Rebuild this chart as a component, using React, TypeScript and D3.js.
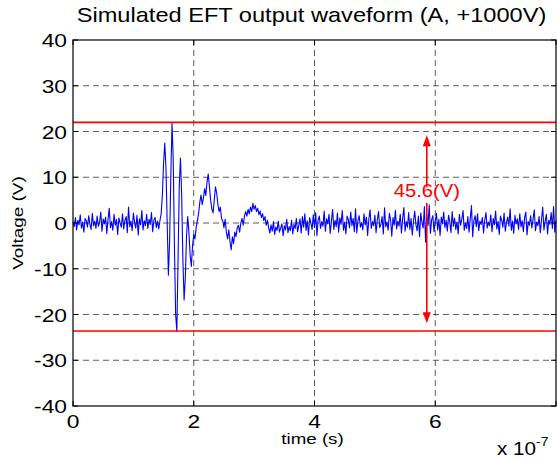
import React, { useEffect, useRef } from "react";
import * as d3 from "d3";

const sampleStep = 0.02e-7;
const voltage = [
  0.3, -0.8, 1.2, -1.5, 0.6, -0.4, 1.8, -1.1, 0.2, -2.0,
  1.0, 0.5, -0.9, 1.6, -0.3, -1.4, 2.1, -0.6, 0.4, -1.2,
  1.5, -0.7, 0.1, 2.4, -1.8, 0.9, -0.2, 1.3, -2.3, 0.7,
  3.2, -1.0, 0.3, -1.6, 1.9, -0.5, 0.8, -2.5, 1.1, 0.0,
  -0.9, 2.0, -1.3, 0.6, 1.4, -2.1, 3.5, -0.8, 0.4, -1.7,
  2.2, 0.1, -1.1, 1.7, -2.6, 0.9, -0.4, 2.7, -1.5, 0.5,
  -0.6, 1.9, -1.2, 0.8, -0.3, 2.3, -1.9, 0.7, 1.2, -1.0,
  0.4, -1.3, 0.5, 2.0, 6.0, 13.0, 17.5, 12.0, 0.0, -11.4,
  -4.0, 10.0, 21.8, 14.0, -5.0, -20.0, -23.7, -8.0, 8.0, 14.2,
  6.0, -8.0, -16.8, -12.0, -3.0, 1.4, -2.0, -7.0, -9.5, -5.0,
  -2.5, -3.5, -1.0, 0.5, 2.0, 4.5, 6.1, 4.0, 5.5, 7.5,
  6.0, 9.0, 10.7, 8.0, 5.0, 3.0, 2.2, 5.0, 7.9, 6.5,
  4.0, 2.5, 3.5, 1.0, 0.5, -1.0, 0.8, -2.0, -3.5, -1.5,
  -4.0, -5.9, -3.0, -4.5, -2.0, -3.0, -1.0, -0.5, -2.0, 0.0,
  1.0, -0.5, 1.5, 2.5, 1.5, 3.0, 2.0, 3.5, 2.5, 4.3,
  3.0, 3.8, 2.5, 3.2, 1.8, 2.6, 1.2, 2.0, 0.5, 1.4,
  -0.5, 0.6, -1.0, -2.2, -0.4, -1.8, 0.3, -2.5, -0.9, -1.6,
  0.4, -2.0, -1.1, -0.2, -2.8, -0.6, -1.5, 0.8, -2.1, -0.8,
  -1.7, 0.6, -2.4, -0.3, -1.2, 1.0, -1.9, -0.5, 0.9, -2.2,
  1.4, -0.9, 2.0, -1.6, 0.5, -2.6, 1.2, 0.0, -1.4, 1.8,
  -1.0, 2.3, -2.8, 0.7, 1.5, -1.2, 0.3, -0.7, 2.6, -1.8,
  0.9, -0.2, 1.9, -2.3, 0.4, 3.0, -1.4, 0.6, -0.8, 2.2,
  -2.0, 1.1, -0.3, 2.7, -1.6, 0.2, -2.4, 1.5, 0.8, -1.1,
  2.4, -0.6, 1.0, -1.9, 3.1, -2.2, 0.5, 1.6, -0.9, 0.1,
  -1.5, 2.0, -0.4, 1.3, -2.7, 0.8, 2.9, -1.2, 0.3, -0.6,
  1.7, -2.1, 0.6, 2.5, -1.0, -0.3, 1.4, -2.4, 3.3, -0.8,
  0.2, -1.6, 2.1, 0.7, -2.9, 1.2, -0.5, 2.8, -1.3, 0.4,
  -0.7, 1.9, -2.2, 0.9, 3.4, -1.8, 0.3, -0.9, 2.3, -1.4,
  1.0, -2.6, 0.5, 2.6, -0.4, -1.7, 1.5, -3.0, 2.2, 0.1,
  -1.1, 3.6, -4.2, 1.8, -0.6, 4.0, -2.3, 0.7, 1.6, -1.9,
  0.4, 2.1, -1.5, 0.8, -2.7, 1.3, -0.2, 2.4, -1.0, 0.6,
  -1.8, 1.7, 0.3, -2.1, 2.5, -0.7, 1.1, -1.4, 0.2, -2.4,
  1.9, -0.5, 0.8, 2.7, -1.6, 0.0, -1.2, 1.4, -2.0, 0.9,
  3.8, -3.0, 0.5, 1.6, -0.8, 2.0, -1.7, 0.4, -0.3, 1.2,
  -2.2, 0.7, 2.3, -1.1, 0.2, -0.6, 1.8, -1.9, 1.0, -0.4,
  2.6, -1.3, 0.3, -2.5, 1.5, 0.6, -0.9, 2.2, -1.8, 0.1,
  1.3, -0.7, 3.1, -1.6, 0.4, -2.3, 1.7, -0.2, 0.9, -1.4,
  2.0, -0.8, 0.5, -1.9, 1.2, 2.4, -2.6, 0.3, -0.5, 1.6,
  -1.1, 0.8, 2.9, -1.7, 0.2, -0.6, 1.4, -2.1, 0.7, 3.5,
  -1.5, 0.4, 1.9, -2.4, 0.6, -0.3, 2.3, -1.2, 3.6, -2.0,
  0.5,
];

// peak levels and the annotation
const peakLevels = [22.0, -23.6];
const arrowTime = 5.86e-7;
const arrowEnds = [19.2, -21.9];
const arrowGap = [7.8, 4.4]; // where the arrow breaks around the label
const labelText = "45.6(V)";
const labelValue = 5.6;

const xTicks = [0, 2e-7, 4e-7, 6e-7, 8e-7];
const xTickLabels = ["0", "2", "4", "6", "8"];
const yTicks = [-40, -30, -20, -10, 0, 10, 20, 30, 40];

const App = () => {
  const svgRef = useRef<SVGSVGElement>(null);

  useEffect(() => {
    const svg = d3.select(svgRef.current);
    svg.selectAll("*").remove();

    const width = 557;
    const height = 460;
    const margin = { top: 40, right: 1, bottom: 54, left: 73 };
    const font = "'Liberation Sans', Arial, Helvetica, sans-serif";

    //the reference text is a bit wider than Arial, so stretch it along the baseline
    const label = (
      parent: any,
      px: number,
      py: number,
      txt: string,
      size: number,
      anchor: string,
      sx = 1.18,
      rotate = 0,
      fill = "#000"
    ) =>
      parent
        .append("text")
        .attr("transform", `translate(${px},${py}) rotate(${rotate}) scale(${sx},1)`)
        .attr("text-anchor", anchor)
        .attr("fill", fill)
        .style("font-family", font)
        .style("font-size", `${size}px`)
        .text(txt);

    const x = d3.scaleLinear().domain([0, 8e-7]).range([margin.left, width - margin.right]);
    const y = d3.scaleLinear().domain([-40, 40]).range([height - margin.bottom, margin.top]);
    const [x0, x1] = x.range();
    const [y0, y1] = y.range();

    // white plot area
    svg.append("rect").attr("x", x0).attr("y", y1).attr("width", x1 - x0).attr("height", y0 - y1).attr("fill", "#fff");

    // dashed grid
    const grid = svg.append("g").attr("stroke", "#333").attr("stroke-width", 0.8).attr("stroke-dasharray", "6,4");
    grid.selectAll("line.gy")
      .data(yTicks.slice(1, -1))
      .enter()
      .append("line")
      .attr("x1", x0)
      .attr("x2", x1)
      .attr("y1", (d) => y(d))
      .attr("y2", (d) => y(d));
    grid.selectAll("line.gx")
      .data(xTicks.slice(1, -1))
      .enter()
      .append("line")
      .attr("x1", (d) => x(d))
      .attr("x2", (d) => x(d))
      .attr("y1", y1)
      .attr("y2", y0);

    // waveform
    const line = d3
      .line<number>()
      .x((d, i) => x(i * sampleStep))
      .y((d) => y(d));
    svg.append("path")
      .datum(voltage)
      .attr("fill", "none")
      .attr("stroke", "#0000ff")
      .attr("stroke-width", 1.1)
      .attr("stroke-linejoin", "round")
      .attr("d", line);

    // peak lines
    svg.selectAll("line.peak")
      .data(peakLevels)
      .enter()
      .append("line")
      .attr("x1", x0)
      .attr("x2", x1)
      .attr("y1", (d) => y(d))
      .attr("y2", (d) => y(d))
      .attr("stroke", "#ff0000")
      .attr("stroke-width", 1.6);

    // double arrow, broken around the label
    const ax = x(arrowTime);
    const headLen = 11;
    const headHalf = 4;
    svg.append("line")
      .attr("x1", ax).attr("x2", ax)
      .attr("y1", y(arrowEnds[0]) + headLen - 1).attr("y2", y(arrowGap[0]))
      .attr("stroke", "#ff0000").attr("stroke-width", 1.6);
    svg.append("line")
      .attr("x1", ax).attr("x2", ax)
      .attr("y1", y(arrowGap[1])).attr("y2", y(arrowEnds[1]) - headLen + 1)
      .attr("stroke", "#ff0000").attr("stroke-width", 1.6);
    const top = y(arrowEnds[0]);
    const bot = y(arrowEnds[1]);
    svg.append("path")
      .attr("d", `M${ax},${top} L${ax - headHalf},${top + headLen} L${ax + headHalf},${top + headLen} Z`)
      .attr("fill", "#ff0000");
    svg.append("path")
      .attr("d", `M${ax},${bot} L${ax - headHalf},${bot - headLen} L${ax + headHalf},${bot - headLen} Z`)
      .attr("fill", "#ff0000");
    label(svg, ax, y(labelValue), labelText, 18, "middle", 1.12, 0, "#ff0000");

    // box and inward ticks
    svg.append("rect")
      .attr("x", x0).attr("y", y1).attr("width", x1 - x0).attr("height", y0 - y1)
      .attr("fill", "none").attr("stroke", "#000").attr("stroke-width", 1.2);
    const tickLen = 5;
    const ticks = svg.append("g").attr("stroke", "#000").attr("stroke-width", 1);
    yTicks.forEach((t) => {
      ticks.append("line").attr("x1", x0).attr("x2", x0 + tickLen).attr("y1", y(t)).attr("y2", y(t));
      ticks.append("line").attr("x1", x1).attr("x2", x1 - tickLen).attr("y1", y(t)).attr("y2", y(t));
    });
    xTicks.forEach((t) => {
      ticks.append("line").attr("x1", x(t)).attr("x2", x(t)).attr("y1", y0).attr("y2", y0 - tickLen);
      ticks.append("line").attr("x1", x(t)).attr("x2", x(t)).attr("y1", y1).attr("y2", y1 + tickLen);
    });

    // tick labels
    yTicks.forEach((t) => label(svg, x0 - 6, y(t) + 7, String(t), 19, "end", 1.2));
    xTicks.slice(0, -1).forEach((t, i) => label(svg, x(t), y0 + 22, xTickLabels[i], 19, "middle", 1.2));

    // exponent
    const expo = label(svg, 497, 455, "", 18, "start", 1.15);
    expo.append("tspan").text("x 10");
    expo.append("tspan").attr("dy", -9).style("font-size", "12px").text("-7");

    // axis labels
    label(svg, (x0 + x1) / 2 - 2, 444, "time (s)", 15, "middle", 1.25);
    label(svg, 23, y(0), "Voltage (V)", 14, "middle", 1.35, -90);

    // title
    label(svg, (x0 + x1) / 2 - 3, 22, "Simulated EFT output waveform (A, +1000V)", 20, "middle", 1.18);
  }, []);

  return (
    <svg
      ref={svgRef}
      width={557}
      height={460}
      style={{ position: "absolute", left: 0, top: 0, background: "#fff" }}
    />
  );
};

export default App;
